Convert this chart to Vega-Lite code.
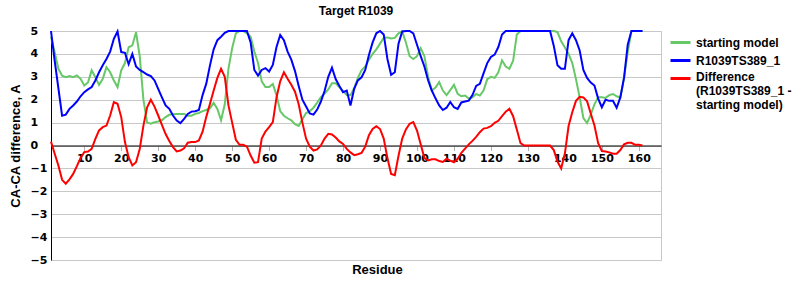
{
  "$schema": "https://vega.github.io/schema/vega-lite/v6.json",
  "width": 610,
  "height": 229,
  "padding": {"left": 9, "top": 5, "right": 5, "bottom": 5},
  "background": "white",
  "title": {"text": "Target R1039", "font": "Liberation Sans", "fontSize": 12, "fontWeight": "bold", "anchor": "middle", "offset": 7, "color": "black"},
  "data": {"values": [
    {"r":1,"s":4.75,"m":5.0,"d":0.17},{"r":2,"s":4.07,"m":3.7,"d":-0.36},{"r":3,"s":3.35,"m":2.5,"d":-0.87},{"r":4,"s":3.05,"m":1.3,"d":-1.5},{"r":5,"s":2.98,"m":1.35,"d":-1.67},
    {"r":6,"s":3.03,"m":1.6,"d":-1.48},{"r":7,"s":2.98,"m":1.75,"d":-1.24},{"r":8,"s":3.06,"m":1.92,"d":-0.9},{"r":9,"s":2.91,"m":2.15,"d":-0.55},{"r":10,"s":2.62,"m":2.33,"d":-0.29},
    {"r":11,"s":2.75,"m":2.45,"d":-0.26},{"r":12,"s":3.28,"m":2.55,"d":-0.15},{"r":13,"s":2.98,"m":2.84,"d":0.29},{"r":14,"s":2.65,"m":3.2,"d":0.66},{"r":15,"s":2.91,"m":3.5,"d":0.8},
    {"r":16,"s":3.42,"m":3.78,"d":0.87},{"r":17,"s":3.2,"m":4.1,"d":1.31},{"r":18,"s":2.84,"m":4.66,"d":1.89},{"r":19,"s":2.55,"m":4.98,"d":1.82},{"r":20,"s":3.28,"m":4.08,"d":1.24},
    {"r":21,"s":3.6,"m":4.05,"d":0.15},{"r":22,"s":4.29,"m":3.55,"d":-0.51},{"r":23,"s":4.37,"m":4.0,"d":-0.87},{"r":24,"s":4.95,"m":3.45,"d":-0.73},{"r":25,"s":3.9,"m":3.3,"d":-0.15},
    {"r":26,"s":2.0,"m":3.2,"d":0.87},{"r":27,"s":1.0,"m":3.1,"d":1.67},{"r":28,"s":0.95,"m":3.03,"d":2.0},{"r":29,"s":1.02,"m":2.84,"d":1.7},{"r":30,"s":1.05,"m":2.47,"d":1.31},
    {"r":31,"s":1.1,"m":2.1,"d":0.9},{"r":32,"s":1.24,"m":1.75,"d":0.5},{"r":33,"s":1.34,"m":1.6,"d":0.2},{"r":34,"s":1.37,"m":1.31,"d":-0.07},{"r":35,"s":1.38,"m":1.09,"d":-0.26},
    {"r":36,"s":1.38,"m":0.98,"d":-0.22},{"r":37,"s":1.38,"m":1.16,"d":-0.12},{"r":38,"s":1.3,"m":1.38,"d":0.12},{"r":39,"s":1.3,"m":1.48,"d":0.15},{"r":40,"s":1.38,"m":1.5,"d":0.15},
    {"r":41,"s":1.42,"m":1.55,"d":0.22},{"r":42,"s":1.5,"m":2.2,"d":0.6},{"r":43,"s":1.55,"m":2.7,"d":1.25},{"r":44,"s":1.63,"m":3.5,"d":1.82},{"r":45,"s":1.86,"m":4.2,"d":2.4},
    {"r":46,"s":1.6,"m":4.6,"d":2.95},{"r":47,"s":1.1,"m":4.75,"d":3.35},{"r":48,"s":1.8,"m":4.92,"d":3.0},{"r":49,"s":3.35,"m":5.0,"d":1.75},{"r":50,"s":4.25,"m":5.0,"d":1.0},
    {"r":51,"s":4.9,"m":5.0,"d":0.25},{"r":52,"s":5.0,"m":5.0,"d":0.03},{"r":53,"s":5.0,"m":5.0,"d":0.03},{"r":54,"s":4.9,"m":5.0,"d":-0.05},{"r":55,"s":4.75,"m":4.5,"d":-0.44},
    {"r":56,"s":4.1,"m":3.3,"d":-0.75},{"r":57,"s":3.6,"m":3.05,"d":-0.73},{"r":58,"s":2.8,"m":3.3,"d":0.3},{"r":59,"s":2.55,"m":3.38,"d":0.61},{"r":60,"s":2.55,"m":3.23,"d":0.8},
    {"r":61,"s":2.69,"m":3.52,"d":1.02},{"r":62,"s":2.2,"m":4.3,"d":2.1},{"r":63,"s":1.5,"m":4.83,"d":2.8},{"r":64,"s":1.3,"m":4.6,"d":3.2},{"r":65,"s":1.19,"m":4.1,"d":2.91},
    {"r":66,"s":1.1,"m":3.75,"d":2.65},{"r":67,"s":0.93,"m":3.25,"d":2.35},{"r":68,"s":0.85,"m":2.6,"d":1.8},{"r":69,"s":1.15,"m":2.0,"d":1.0},{"r":70,"s":1.42,"m":1.7,"d":0.3},
    {"r":71,"s":1.5,"m":1.4,"d":-0.05},{"r":72,"s":1.65,"m":1.35,"d":-0.22},{"r":73,"s":1.87,"m":1.57,"d":-0.17},{"r":74,"s":2.11,"m":1.92,"d":0.0},{"r":75,"s":2.27,"m":2.38,"d":0.3},
    {"r":76,"s":2.45,"m":3.0,"d":0.51},{"r":77,"s":2.72,"m":3.4,"d":0.48},{"r":78,"s":2.72,"m":2.9,"d":0.35},{"r":79,"s":2.55,"m":2.6,"d":0.18},{"r":80,"s":2.38,"m":2.33,"d":0.07},
    {"r":81,"s":2.2,"m":2.4,"d":-0.15},{"r":82,"s":2.2,"m":1.75,"d":-0.3},{"r":83,"s":2.5,"m":2.47,"d":-0.42},{"r":84,"s":2.95,"m":2.84,"d":-0.38},{"r":85,"s":3.28,"m":2.98,"d":-0.32},
    {"r":86,"s":3.45,"m":3.3,"d":-0.05},{"r":87,"s":3.75,"m":3.95,"d":0.45},{"r":88,"s":4.0,"m":4.5,"d":0.72},{"r":89,"s":4.2,"m":4.9,"d":0.84},{"r":90,"s":4.45,"m":5.0,"d":0.72},
    {"r":91,"s":4.7,"m":4.85,"d":0.3},{"r":92,"s":4.72,"m":3.78,"d":-0.55},{"r":93,"s":4.67,"m":3.09,"d":-1.24},{"r":94,"s":4.7,"m":3.2,"d":-1.3},{"r":95,"s":4.9,"m":4.45,"d":-0.45},
    {"r":96,"s":4.98,"m":4.98,"d":0.3},{"r":97,"s":4.5,"m":5.0,"d":0.7},{"r":98,"s":3.9,"m":5.0,"d":0.95},{"r":99,"s":3.78,"m":4.9,"d":1.02},{"r":100,"s":3.9,"m":4.4,"d":0.65},
    {"r":101,"s":4.25,"m":3.9,"d":0.05},{"r":102,"s":3.9,"m":3.45,"d":-0.55},{"r":103,"s":3.0,"m":2.85,"d":-0.65},{"r":104,"s":2.4,"m":2.4,"d":-0.6},{"r":105,"s":2.53,"m":2.06,"d":-0.6},
    {"r":106,"s":2.77,"m":1.75,"d":-0.68},{"r":107,"s":2.4,"m":1.55,"d":-0.72},{"r":108,"s":2.2,"m":1.65,"d":-0.58},{"r":109,"s":2.42,"m":1.9,"d":-0.66},{"r":110,"s":2.65,"m":1.67,"d":-0.73},
    {"r":111,"s":2.26,"m":1.6,"d":-0.58},{"r":112,"s":2.15,"m":1.88,"d":-0.32},{"r":113,"s":2.18,"m":1.92,"d":-0.14},{"r":114,"s":2.05,"m":1.96,"d":0.05},{"r":115,"s":2.1,"m":2.2,"d":0.2},
    {"r":116,"s":2.25,"m":2.6,"d":0.38},{"r":117,"s":2.18,"m":2.69,"d":0.58},{"r":118,"s":2.4,"m":3.15,"d":0.74},{"r":119,"s":2.9,"m":3.6,"d":0.77},{"r":120,"s":3.0,"m":3.87,"d":0.84},
    {"r":121,"s":2.95,"m":3.97,"d":0.99},{"r":122,"s":3.2,"m":4.3,"d":1.08},{"r":123,"s":3.72,"m":4.85,"d":1.28},{"r":124,"s":3.45,"m":5.0,"d":1.48},{"r":125,"s":3.35,"m":5.0,"d":1.6},
    {"r":126,"s":3.7,"m":5.0,"d":1.28},{"r":127,"s":4.85,"m":5.0,"d":0.7},{"r":128,"s":5.0,"m":5.0,"d":0.1},{"r":129,"s":5.0,"m":5.0,"d":0.0},{"r":130,"s":5.0,"m":5.0,"d":0.0},
    {"r":131,"s":5.0,"m":5.0,"d":0.0},{"r":132,"s":5.0,"m":5.0,"d":0.0},{"r":133,"s":5.0,"m":5.0,"d":0.0},{"r":134,"s":5.0,"m":5.0,"d":0.0},{"r":135,"s":5.0,"m":5.0,"d":0.0},
    {"r":136,"s":5.0,"m":5.0,"d":0.0},{"r":137,"s":5.0,"m":4.35,"d":-0.2},{"r":138,"s":4.95,"m":3.5,"d":-0.7},{"r":139,"s":4.55,"m":3.35,"d":-1.0},{"r":140,"s":4.28,"m":3.35,"d":-0.35},
    {"r":141,"s":4.0,"m":4.6,"d":0.85},{"r":142,"s":3.6,"m":4.9,"d":1.45},{"r":143,"s":2.9,"m":4.6,"d":1.95},{"r":144,"s":2.1,"m":4.15,"d":2.13},{"r":145,"s":1.2,"m":3.3,"d":2.1},
    {"r":146,"s":0.98,"m":2.95,"d":1.93},{"r":147,"s":1.35,"m":2.75,"d":1.4},{"r":148,"s":1.8,"m":2.62,"d":0.87},{"r":149,"s":2.11,"m":2.05,"d":0.1},{"r":150,"s":2.11,"m":1.67,"d":-0.24},
    {"r":151,"s":2.08,"m":2.0,"d":-0.26},{"r":152,"s":2.2,"m":1.95,"d":-0.3},{"r":153,"s":2.25,"m":1.95,"d":-0.36},{"r":154,"s":2.15,"m":1.65,"d":-0.36},{"r":155,"s":2.1,"m":2.1,"d":-0.2},
    {"r":156,"s":2.95,"m":2.95,"d":0.05},{"r":157,"s":4.08,"m":4.4,"d":0.12},{"r":158,"s":5.0,"m":5.0,"d":0.12},{"r":159,"s":5.0,"m":5.0,"d":0.03},{"r":160,"s":5.0,"m":5.0,"d":0.03},
    {"r":161,"s":5.0,"m":5.0,"d":0.0}
  ]},
  "transform": [
    {"fold": ["s", "m", "d"], "as": ["key", "value"]}
  ],
  "mark": {"type": "line", "strokeWidth": 2, "interpolate": "linear"},
  "encoding": {
    "x": {
      "field": "r", "type": "quantitative",
      "scale": {"domain": [1, 166], "nice": false, "zero": false},
      "axis": {
        "title": "Residue", "values": [10,20,30,40,50,60,70,80,90,100,110,120,130,140,150,160],
        "offset": -114.5, "grid": false, "domain": true, "domainColor": "black", "domainWidth": 1,
        "ticks": true, "tickColor": "#b0b0b0", "tickSize": 5,
        "labelFont": "DejaVu Sans", "labelFontSize": 11, "labelFontWeight": "bold", "labelColor": "black", "labelPadding": 2,
        "titleFont": "Liberation Sans", "titleFontSize": 13, "titleFontWeight": "bold", "titleColor": "black",
        "titleX": 326, "titleY": 118, "titleBaseline": "top"
      }
    },
    "y": {
      "field": "value", "type": "quantitative",
      "scale": {"domain": [-5, 5], "nice": false},
      "axis": {
        "title": "CA-CA difference, A", "values": [-5,-4,-3,-2,-1,0,1,2,3,4,5],
        "grid": true, "gridColor": "#c8c8c8", "gridWidth": 1,
        "domain": true, "domainColor": "black", "ticks": false, "labelPadding": 21, "labelAlign": "left",
        "labelFont": "DejaVu Sans", "labelFontSize": 11, "labelFontWeight": "bold", "labelColor": "black",
        "titleFont": "Liberation Sans", "titleFontSize": 13, "titleFontWeight": "bold", "titleColor": "black", "titlePadding": 8
      }
    },
    "color": {
      "field": "key", "type": "nominal",
      "scale": {"domain": ["s", "m", "d"], "range": ["#66c866", "#0000ff", "#ff0000"]},
      "legend": {
        "title": null, "orient": "right", "offset": 8, "padding": 0,
        "symbolType": "stroke", "symbolStrokeWidth": 3, "symbolSize": 400,
        "labelFont": "Liberation Sans", "labelFontSize": 12, "labelFontWeight": "bold", "labelColor": "black",
        "labelExpr": "datum.value == 's' ? 'starting model' : datum.value == 'm' ? 'R1039TS389_1' : ['Difference', '(R1039TS389_1 -', '      starting model)']",
        "rowPadding": -10, "labelLimit": 200,
        "labelOffset": 4,
        "encode": {
          "labels": {"update": {
            "baseline": {"signal": "datum.value == 'd' ? 'top' : 'middle'"},
            "dy": {"signal": "datum.value == 'd' ? -7 : 0"}
          }}
        }
      }
    }
  },
  "config": {
    "view": {"stroke": "#c8c8c8"}
  }
}
